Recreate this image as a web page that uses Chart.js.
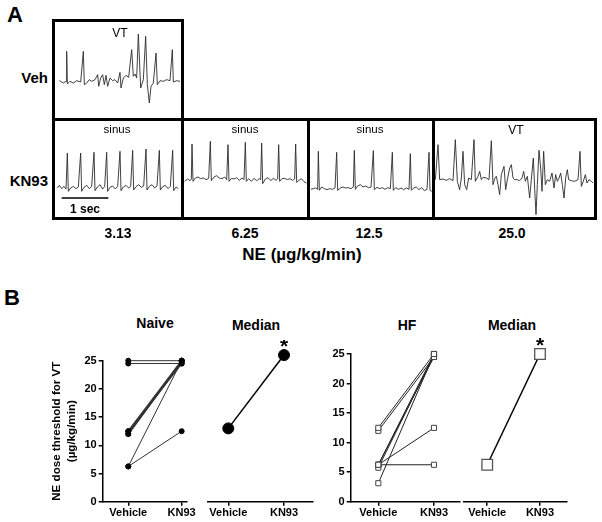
<!DOCTYPE html>
<html>
<head>
<meta charset="utf-8">
<script src="https://cdn.jsdelivr.net/npm/chart.js@4.4.1/dist/chart.umd.min.js"></script>
<style>
  body { margin: 0; background: #fff; width: 602px; height: 522px; position: relative; overflow: hidden;
         font-family: "Liberation Sans", Arial, sans-serif; }
  .lbl { position: absolute; font-weight: bold; color: #000; white-space: nowrap; line-height: 1; transform: translate(-50%, -50%); }
  .rt { transform: translate(-100%, -50%); }
  .reg { font-weight: normal; }
  .box { position: absolute; border: 3px solid #000; box-sizing: border-box; }
  .box canvas { position: absolute; left: 0; top: 0; }
  canvas.plot { position: absolute; }
</style>
</head>
<body>

<!-- panel A -->
<div class="lbl" style="left:15px;top:15px;font-size:22px">A</div>
<div class="lbl rt" style="left:48px;top:77px;font-size:15px">Veh</div>
<div class="lbl rt" style="left:48px;top:180px;font-size:15px">KN93</div>

<div class="box" style="left:52px;top:19px;width:132px;height:102px"><canvas id="ecgVeh" width="126" height="96"></canvas></div>
<div class="box" style="left:52px;top:118px;width:132px;height:102px"><canvas id="ecg1" width="126" height="96"></canvas></div>
<div class="box" style="left:181px;top:118px;width:129px;height:102px"><canvas id="ecg2" width="123" height="96"></canvas></div>
<div class="box" style="left:307px;top:118px;width:128px;height:102px"><canvas id="ecg3" width="122" height="96"></canvas></div>
<div class="box" style="left:432px;top:118px;width:165px;height:102px"><canvas id="ecg4" width="159" height="96"></canvas></div>

<div class="lbl reg" style="left:120px;top:33px;font-size:12px" id="rVeh"></div>
<div class="lbl reg" style="left:117px;top:130px;font-size:11.5px" id="r0"></div>
<div class="lbl reg" style="left:245px;top:130px;font-size:11.5px" id="r1"></div>
<div class="lbl reg" style="left:370px;top:130px;font-size:11.5px" id="r2"></div>
<div class="lbl reg" style="left:516px;top:130px;font-size:12px" id="r3"></div>
<div class="lbl" style="left:85px;top:209px;font-size:12px">1 sec</div>

<div class="lbl" style="left:118px;top:233px;font-size:14px" id="d0"></div>
<div class="lbl" style="left:245px;top:233px;font-size:14px" id="d1"></div>
<div class="lbl" style="left:369px;top:233px;font-size:14px" id="d2"></div>
<div class="lbl" style="left:512px;top:233px;font-size:14px" id="d3"></div>
<div class="lbl" style="left:302px;top:254px;font-size:17px">NE (µg/kg/min)</div>

<!-- panel B -->
<div class="lbl" style="left:12px;top:298px;font-size:22px">B</div>
<div class="lbl" style="left:155px;top:323px;font-size:14px">Naive</div>
<div class="lbl" style="left:256px;top:325px;font-size:14px">Median</div>
<div class="lbl" style="left:407px;top:325px;font-size:14px">HF</div>
<div class="lbl" style="left:512px;top:325px;font-size:14px">Median</div>

<canvas class="plot" id="naive" width="165" height="180" style="left:40px;top:340px"></canvas>
<canvas class="plot" id="naiveMed" width="130" height="180" style="left:195px;top:340px"></canvas>
<canvas class="plot" id="hf" width="145" height="190" style="left:320px;top:330px"></canvas>
<canvas class="plot" id="hfMed" width="140" height="190" style="left:455px;top:330px"></canvas>

<script>
const FONT = '"Liberation Sans", Arial, sans-serif';
Chart.defaults.font.family = FONT;

// ---- panel A data: ECG traces as [time, amplitude] (arbitrary units) ----
const doses = ["3.13", "6.25", "12.5", "25.0"];
const rhythms = ["sinus", "sinus", "sinus", "VT"];
const vehRhythm = "VT";

const vehTrace = [[28,4],[40,-3],[48,2],[50,92],[52,-6],[60,2],[70,-3],[80,4],[92,0],[100,92],[103,-8],[110,-3],
  [118,7],[125,2],[135,7],[143,22],[146,-13],[152,12],[158,22],[163,-8],[168,20],[173,-13],[180,12],[188,4],
  [195,7],[203,-3],[210,29],[213,-18],[220,12],[228,20],[236,14],[245,97],[250,17],[255,24],[260,12],[265,144],
  [272,-18],[280,7],[287,137],[292,-8],[298,-63],[303,-13],[310,-3],[318,87],[322,-8],[330,4],[340,2],[350,7],
  [360,4],[367,97],[370,0],[380,4],[390,2]];

const kn93Trace313 = [[22,0],[28,8],[35,-2],[42,5],[48,-3],[52,105],[55,-10],[62,0],[70,5],[78,-2],[85,3],[92,105],
  [95,-10],[102,2],[110,8],[118,-2],[125,5],[132,107],[135,-8],[142,3],[150,10],[158,-3],[164,4],[170,107],
  [173,-10],[180,2],[188,6],[196,-3],[203,5],[210,110],[213,-8],[220,3],[228,8],[236,0],[242,5],[248,113],
  [251,-6],[258,4],[266,10],[274,2],[281,6],[288,117],[291,-6],[298,5],[306,10],[314,0],[321,6],[328,113],
  [331,-6],[338,4],[346,8],[354,-2],[361,5],[368,113],[371,-8],[378,3],[385,-2]];
const scaleBar = [[35,-30],[175,-30]];

const kn93Trace625 = [[20,-5],[28,2],[36,-3],[40,2],[42,107],[45,-5],[52,5],[60,8],[68,3],[76,5],[84,0],[92,4],
  [97,115],[100,-3],[108,8],[116,12],[124,5],[132,3],[140,8],[146,0],[150,105],[153,-5],[160,4],[168,2],[176,6],
  [184,-2],[192,5],[198,0],[202,112],[205,-5],[212,3],[220,-5],[228,4],[236,-3],[244,3],[248,0],[251,110],
  [254,-12],[262,2],[270,6],[278,-3],[286,4],[294,-2],[299,2],[302,105],[305,-5],[312,3],[320,4],[328,0],
  [336,3],[344,-2],[350,2],[353,107],[356,-8],[362,-3],[370,3],[378,-6],[385,-10]];

const kn93Trace125 = [[18,-2],[25,0],[32,2],[38,-2],[40,112],[43,-5],[50,5],[58,0],[66,-3],[74,0],[82,-2],[90,2],
  [95,109],[98,-5],[106,2],[114,5],[122,2],[130,3],[138,0],[145,5],[148,115],[151,-2],[158,8],[166,12],[174,5],
  [182,8],[190,3],[198,5],[205,114],[208,-3],[216,4],[224,0],[232,3],[240,-2],[248,3],[256,0],[262,109],
  [265,-5],[272,3],[280,-2],[288,2],[296,-3],[304,2],[312,-2],[316,105],[319,-5],[326,2],[334,5],[342,-3],
  [350,3],[358,-6],[366,-2],[372,109],[375,-5],[380,-8]];

const kn93Trace250 = [[22,0],[30,105],[35,0],[45,2],[55,-2],[65,3],[75,-3],[82,120],[88,-5],[95,-30],[100,5],
  [105,85],[110,-15],[116,-30],[122,5],[130,0],[138,120],[142,-5],[150,10],[155,25],[160,0],[165,7],[175,5],
  [183,0],[190,117],[195,-15],[200,3],[205,10],[210,-15],[215,-45],[220,15],[228,40],[233,-30],[238,0],
  [245,35],[250,45],[255,5],[260,0],[268,0],[275,-3],[282,5],[287,25],[292,-5],[298,10],[305,-55],[310,0],
  [316,65],[320,-25],[324,-105],[328,-15],[333,88],[338,35],[342,-35],[347,85],[352,-15],[358,0],[365,-5],
  [372,20],[378,-25],[383,15],[388,-5],[393,5],[398,20],[403,-15],[408,-55],[413,5],[418,30],[422,0],[430,-3],
  [440,-5],[450,0],[456,85],[460,-20],[466,-5],[472,15],[477,-10],[483,0],[490,-5],[495,-10]];

// ---- panel B data: NE dose threshold for VT (µg/kg/min) ----
const groups = ["Vehicle", "KN93"];
const yTicks = [0, 5, 10, 15, 20, 25];
const naiveVehicle = [25, 24.5, 12.5, 12.5, 12, 12, 6.25, 6.25];
const naiveKN93    = [25, 24.5, 25, 24.5, 25, 24.8, 25, 12.5];
const naiveMedian  = [13, 26];
const hfVehicle = [12.5, 12, 6.25, 6.25, 5.75, 3.13, 6.25, 6.25];
const hfKN93    = [25, 24.5, 25, 24.5, 24.8, 25, 12.5, 6.25];
const hfMedian  = [6.25, 25];

// text from the arrays
document.getElementById("rVeh").textContent = vehRhythm;
rhythms.forEach((r, i) => document.getElementById("r" + i).textContent = r);
doses.forEach((d, i) => document.getElementById("d" + i).textContent = d);

/* ECG strips */
function ecg(id, trace, xr, yr, extra) {
  const datasets = [{
    data: trace.map(([x, y]) => ({x, y})),
    borderColor: "#2b2b2b", borderWidth: 0.9, pointRadius: 0, tension: 0
  }];
  if (extra) datasets.push({
    data: extra.map(([x, y]) => ({x, y})),
    borderColor: "#000", borderWidth: 1.5, pointRadius: 0
  });
  new Chart(document.getElementById(id), {
    type: "line",
    data: { datasets },
    options: {
      responsive: false, animation: false,
      layout: { padding: 0 },
      plugins: { legend: { display: false }, tooltip: { enabled: false } },
      scales: {
        x: { type: "linear", display: false, min: xr[0], max: xr[1] },
        y: { display: false, min: yr[0], max: yr[1] }
      }
    }
  });
}

ecg("ecgVeh", vehTrace, [15, 393], [-108, 180]);
ecg("ecg1", kn93Trace313, [15, 393], [-87, 201], scaleBar);
ecg("ecg2", kn93Trace625, [18, 387], [-112, 176]);
ecg("ecg3", kn93Trace125, [15, 381], [-85, 203]);
ecg("ecg4", kn93Trace250, [21, 498], [-112, 176]);

/* asterisk over KN93 median */
const starPlugin = {
  id: "star",
  afterDatasetsDraw(chart, args, opts) {
    if (!opts.show) return;
    const {ctx, scales: {x, y}} = chart;
    ctx.save();
    ctx.font = "bold 21px " + FONT;
    ctx.fillStyle = "#000";
    ctx.textAlign = "center";
    ctx.textBaseline = "middle";
    ctx.fillText("*", x.getPixelForValue(1), y.getPixelForValue(opts.value) - 8);
    ctx.restore();
  }
};

const tickFont = { family: FONT, size: 11, weight: "bold" };

function pairPlot(id, vehicle, kn93, o) {
  const datasets = vehicle.map((v, i) => ({
    data: [{x: 0, y: v}, {x: 1, y: kn93[i]}],
    borderColor: o.line, borderWidth: o.lw ? o.lw[i] || 1 : 1,
    pointStyle: o.style, pointRadius: o.r,
    pointBackgroundColor: o.fill, pointBorderColor: o.edge, pointBorderWidth: o.bw || 1,
    clip: false
  }));
  new Chart(document.getElementById(id), {
    type: "line",
    data: { datasets },
    plugins: [starPlugin],
    options: {
      responsive: false, animation: false,
      layout: { padding: o.pad },
      plugins: { legend: { display: false }, tooltip: { enabled: false },
                 star: { show: !!o.star, value: kn93[0] } },
      scales: {
        x: {
          type: "linear", min: o.xr[0], max: o.xr[1],
          afterBuildTicks: s => { s.ticks = [0, 1].map(value => ({value})); },
          afterFit: s => { s.height = 18.3; s.paddingLeft = 0; s.paddingRight = 0; },
          ticks: { callback: v => groups[v], font: tickFont, color: "#000", padding: 1, maxRotation: 0, autoSkip: false },
          grid: { display: true, drawOnChartArea: false, drawTicks: true, tickLength: 4, color: "#000", lineWidth: 1.5 },
          border: { display: true, color: "#000", width: 1.5 }
        },
        y: {
          display: !!o.yw, min: 0, max: 25,
          afterBuildTicks: s => { s.ticks = yTicks.map(value => ({value})); },
          afterFit: s => { s.width = o.yw || 0; s.paddingTop = 0; s.paddingBottom = 0; },
          ticks: { font: tickFont, color: "#000", padding: 2 },
          grid: { display: true, drawOnChartArea: false, drawTicks: true, tickLength: 4, color: "#000", lineWidth: 1.5 },
          border: { display: true, color: "#000", width: 1.5 },
          title: o.ytitle ? {
            display: true, text: o.ytitle, color: "#000",
            font: { family: FONT, size: 11.6, weight: "bold", lineHeight: 1.3 },
            padding: { top: 9.5, bottom: 0 }
          } : { display: false }
        }
      }
    }
  });
}

pairPlot("naive", naiveVehicle, naiveKN93, {
  pad: { left: 0, right: 18, top: 20.7, bottom: 0 }, xr: [-0.479, 1.1], yw: 62.7,
  ytitle: ["NE dose threshold for VT", "(µg/kg/min)"],
  line: "#333", lw: [1, 1, 1.6, 1.6, 1.6, 1.6, 1, 1], style: "circle", r: 2.5, fill: "#000", edge: "#000"
});
pairPlot("naiveMed", [naiveMedian[0]], [naiveMedian[1]], {
  pad: { left: 13, right: 12, top: 20.7, bottom: 0 }, xr: [-0.364, 1.52],
  line: "#000", lw: [1.5], style: "circle", r: 5.5, fill: "#000", edge: "#000", star: true
});
pairPlot("hf", hfVehicle, hfKN93, {
  pad: { left: 0, right: 5, top: 24, bottom: 0 }, xr: [-0.496, 1.467], yw: 30.7,
  line: "#222", style: "rect", r: 3.6, fill: "#fff", edge: "#444"
});
pairPlot("hfMed", [hfMedian[0]], [hfMedian[1]], {
  pad: { left: 5, right: 28, top: 24, bottom: 0 }, xr: [-0.444, 1.512],
  line: "#000", lw: [1.5], style: "rect", r: 7.5, fill: "#fff", edge: "#555", bw: 1.3, star: true
});
</script>
</body>
</html>
